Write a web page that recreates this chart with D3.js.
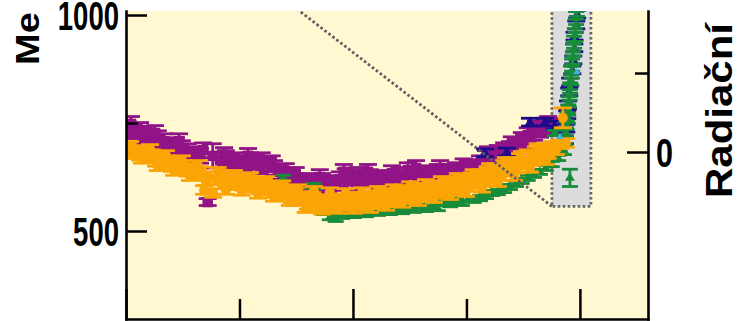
<!DOCTYPE html>
<html>
<head>
<meta charset="utf-8">
<script src="https://cdn.jsdelivr.net/npm/d3@7"></script>
<style>
  html, body { margin: 0; padding: 0; background: #ffffff; }
  svg { display: block; }
</style>
</head>
<body>
<svg id="chart" width="737" height="321"></svg>
<script>
// Methane from ice cores over the last 10,000 years: [years before 2005, ppb, optional error]
const coreA = [ // purple
  [9960,736],[9890,748],[9830,731],[9690,734],[9630,720],[9560,725],[9430,713],[9360,727],
  [9300,715],[9160,708],[9100,692],[9030,697],[8900,699],[8830,708],[8770,692],[8640,685],
  [8570,674],[8500,678],[8370,674],[8300,687],[8200,567,8],[8090,674,28],[7930,664],[7840,676],
  [7800,669],[7670,660],[7580,650],[7530,664],[7400,657],[7310,674],[7270,664],[7140,660],
  [7050,650],[7010,664],[6870,655],[6790,657],[6740,646],[6610,637],[6520,625],[6480,639],
  [6350,625],[6260,630],[6210,616],[6080,613],[5990,602],[5950,616],[5820,609],[5730,625],
  [5680,616],[5550,606],[5460,600],[5420,611],[5290,620],[5200,637],[5160,627],[5020,623],
  [4930,613],[4890,630],[4760,620],[4670,637],[4630,625],[4490,618],[4410,611],[4360,623],
  [4230,616],[4140,634],[4100,623],[3970,630],[3880,618],[3790,641],[3660,630],[3610,646],
  [3530,625],[3390,634],[3350,620],[3260,630],[3130,637],[3080,646],[3000,632],[2860,637],
  [2820,627],[2730,641],[2600,639],[2560,650],[2470,648],[2340,646],[2290,637],[2200,657],
  [2070,669],[2030,678],[1940,671],[1810,681],[1760,674],[1670,687],[1540,690],[1500,701],
  [1410,697],[1280,711],[1230,706],[1150,722],[1010,727],[970,738],[880,734],[750,738],
  [700,748],[620,743]
];
const coreB = [ // orange
  [9960,692],[9910,697],[9870,678],[9780,687],[9690,674],[9650,667],[9600,685],[9520,669],
  [9470,690],[9430,678],[9340,660],[9300,650],[9250,671],[9160,653],[9120,676],[9080,664],
  [8990,648],[8940,639],[8900,660],[8810,641],[8770,664],[8720,653],[8640,637],[8590,627],
  [8550,646],[8460,630],[8420,653],[8370,639],[8280,595],[8240,616],[8200,627],[8080,588],
  [8020,618],[7980,637],[7930,618],[7840,630],[7800,595],[7760,611],[7670,625],[7620,630],
  [7580,606],[7490,620],[7450,593],[7400,604],[7310,618],[7270,625],[7230,600],[7140,613],
  [7090,586],[7050,597],[6960,609],[6920,616],[6870,593],[6790,604],[6740,579],[6700,588],
  [6610,600],[6560,606],[6520,583],[6430,595],[6390,569],[6350,576],[6260,590],[6210,597],
  [6170,569],[6080,581],[6040,553],[5990,560],[5900,579],[5860,593],[5820,558],[5730,574],
  [5680,549],[5640,553],[5550,572],[5510,590],[5460,556],[5380,574],[5330,551],[5290,558],
  [5200,576],[5160,588],[5110,560],[5020,579],[4980,551],[4940,558],[4850,579],[4800,590],
  [4760,560],[4670,581],[4630,553],[4580,562],[4490,583],[4450,593],[4410,565],[4320,586],
  [4270,558],[4230,567],[4140,588],[4100,597],[4050,569],[3970,593],[3920,565],[3880,574],
  [3790,595],[3740,604],[3700,576],[3610,597],[3570,569],[3530,579],[3440,600],[3390,609],
  [3350,581],[3260,604],[3220,576],[3170,586],[3080,606],[3040,616],[3000,588],[2910,611],
  [2860,583],[2820,593],[2730,616],[2690,623],[2640,597],[2560,620],[2510,590],[2470,602],
  [2380,625],[2340,632],[2290,609],[2200,632],[2160,600],[2120,613],[2030,639],[1980,646],
  [1940,620],[1850,646],[1810,613],[1760,627],[1670,653],[1630,660],[1590,637],[1500,660],
  [1450,627],[1410,644],[1320,669],[1280,674],[1230,653],[1150,678],[1100,646],[1060,662],
  [970,685],[930,692],[880,671],[790,692],[750,664],[710,678],[620,697],[530,687],[440,701],
  [375,762,23],[310,704]
];
const coreC = [ // green
  [6540,623],[5880,604],[5640,544],[5510,532],[5380,528],[5240,535],[5110,539],[4980,537],
  [4850,544],[4710,539],[4580,546],[4450,542],[4320,549],[4190,544],[4050,551],[3920,546],
  [3790,553],[3660,549],[3530,556],[3390,551],[3260,558],[3130,553],[3000,567],[2860,562],
  [2730,569],[2600,565],[2470,574],[2340,572],[2200,576],[2070,581],[1940,588],[1810,590],
  [1670,595],[1540,602],[1410,609],[1280,616],[1150,623],[1010,630],[880,637],[750,646],
  [620,655],[550,727],[480,669],
  [352,687,10],[330,711,10],[308,729,10],[290,745,10],[270,762,12],[258,780,12],[242,799,12],
  [225,815,12],[220,623,20],[215,831,12],[198,850,12],[180,868,14],[172,884,14],[154,900,14],
  [138,919,14],[128,937,14],[110,954,15],[92,975,15],[84,993,15],[66,1012,15],[48,1035,15],
  [40,1060,15]
];
const coreD = [ // dark blue
  [2090,681],[1610,683],[1100,752],[880,683],[770,752],[550,745],
  [330,711],[300,738],[280,769],[262,792],[236,822],[214,845],[168,873],[146,896],
  [124,924],[118,951],[80,977],[60,1002],[38,1028],[24,1050]
];
const coreE = [ // light blue
  [440,718],[66,868]
];

// Axis ticks
const ppbMajorTicks = [500, 1000];
const ppbMinorTicks = [750];
const ageMajorTicks = [10000, 5000, 0];
const ageMinorTicks = [7500, 2500];
const rfMajorTicks = [0];
const rfMinorTicks = [0.1];

// Highlighted recent period and its connector towards the detail panel
const recentAges = [617, -242];
const recentFloorPpb = 557;
const detailAnchor = [7340, 1104];

const titleLeft = "Metan (ppb)";
const titleRight = "Radiační působení (W m⁻²)";

// ---------- layout & scales ----------
const svg = d3.select("#chart");
const panel = { left: 126, right: 648, top: 11, bottom: 319 };

const x = d3.scaleLinear().domain([10000, -1500]).range([panel.left, panel.right]);
const y = d3.scaleLinear().domain([296.3, 1009.3]).range([panel.bottom, panel.top]);
const rf = d3.scaleLinear().domain([-0.2114, 0.1785]).range([panel.bottom, panel.top]);

const defs = svg.append("defs");
defs.append("clipPath").attr("id", "plotClip").append("rect")
  .attr("x", panel.left).attr("y", panel.top)
  .attr("width", panel.right - panel.left).attr("height", panel.bottom - panel.top);
defs.append("clipPath").attr("id", "titleClip").append("rect")
  .attr("x", 0).attr("y", panel.top + 1.5).attr("width", 737).attr("height", 321 - panel.top);

// panel background
svg.append("rect")
  .attr("x", panel.left).attr("y", panel.top)
  .attr("width", panel.right - panel.left).attr("height", panel.bottom - panel.top)
  .attr("fill", "#fff8d0");

const plot = svg.append("g").attr("clip-path", "url(#plotClip)");

// grey band for the recent period
plot.append("rect")
  .attr("x", x(recentAges[0]))
  .attr("y", panel.top - 10)
  .attr("width", x(recentAges[1]) - x(recentAges[0]))
  .attr("height", y(recentFloorPpb) - panel.top + 10)
  .attr("fill", "#dcdcdc")
  .attr("stroke", "#666666")
  .attr("stroke-width", 2.8)
  .attr("stroke-dasharray", "2.6 2.4");

// ---------- data series ----------
const series = [
  { data: coreA, color: "#901487", err: 17, cap: 9, symbol: d3.symbolSquare, size: 110 },
  { data: coreD, color: "#1c0c8c", err: 9, cap: 9, symbol: d3.symbolTriangle, size: 40 },
  { data: coreC, color: "#188c3a", err: 6, cap: 8, symbol: d3.symbolTriangle, size: 42 },
  { data: coreB, color: "#fba406", err: 10, cap: 9, symbol: d3.symbolCircle, size: 80 },
  { data: coreE, color: "#3fb3e6", err: 0, cap: 0, symbol: d3.symbolTriangle, size: 22 }
];

series.forEach(s => {
  const pts = s.data.map(d => ({ age: d[0], ppb: d[1], err: d[2] !== undefined ? d[2] : s.err }));
  const g = plot.append("g").attr("stroke", s.color).attr("fill", s.color).attr("stroke-width", 2.8);
  const p = g.selectAll("g").data(pts).join("g")
    .attr("transform", d => `translate(${x(d.age)},0)`);
  p.filter(d => d.err > 0).append("line")
    .attr("x1", 0).attr("x2", 0)
    .attr("y1", d => y(d.ppb - d.err)).attr("y2", d => y(d.ppb + d.err));
  p.filter(d => d.err > 0).append("line")
    .attr("x1", -s.cap).attr("x2", s.cap)
    .attr("y1", d => y(d.ppb + d.err)).attr("y2", d => y(d.ppb + d.err));
  p.filter(d => d.err > 0).append("line")
    .attr("x1", -s.cap).attr("x2", s.cap)
    .attr("y1", d => y(d.ppb - d.err)).attr("y2", d => y(d.ppb - d.err));
  p.append("path")
    .attr("d", d3.symbol(s.symbol, s.size))
    .attr("stroke", "none")
    .attr("transform", d => `translate(0,${y(d.ppb)})`);
});

// connector from the grey band to the detail panel
plot.append("line")
  .attr("x1", x(recentAges[0])).attr("y1", y(recentFloorPpb))
  .attr("x2", x(detailAnchor[0])).attr("y2", y(detailAnchor[1]))
  .attr("stroke", "#5f5f5f").attr("stroke-width", 2.8)
  .attr("stroke-dasharray", "2.6 2.4");

// ---------- axes ----------
const fontTick = "'Liberation Sans', Arial, sans-serif";

function styleAxis(g) {
  g.select(".domain").attr("stroke", "#000").attr("stroke-width", 2.6).attr("stroke-linecap", "square");
  g.selectAll(".tick line").attr("stroke", "#000").attr("stroke-width", 2.5);
}

// left (methane)
const leftMajor = svg.append("g").attr("transform", `translate(${panel.left},0)`)
  .call(d3.axisLeft(y).tickValues(ppbMajorTicks).tickSize(-21).tickSizeOuter(0).tickPadding(7)
    .tickFormat(d3.format("d")));
styleAxis(leftMajor);
leftMajor.selectAll(".tick text")
  .attr("font-family", fontTick).attr("font-weight", "bold").attr("font-size", 40)
  .attr("fill", "#000").attr("dy", "0.37em")
  .attr("textLength", d => String(d).length * 15.3)
  .attr("lengthAdjust", "spacingAndGlyphs");
const leftMinor = svg.append("g").attr("transform", `translate(${panel.left},0)`)
  .call(d3.axisLeft(y).tickValues(ppbMinorTicks).tickSize(-12).tickSizeOuter(0).tickFormat(() => ""));
styleAxis(leftMinor);
leftMinor.select(".domain").remove();

// bottom (time)
const bottomMajor = svg.append("g").attr("transform", `translate(0,${panel.bottom})`)
  .call(d3.axisBottom(x).tickValues(ageMajorTicks).tickSize(-30).tickSizeOuter(0).tickFormat(() => ""));
styleAxis(bottomMajor);
const bottomMinor = svg.append("g").attr("transform", `translate(0,${panel.bottom})`)
  .call(d3.axisBottom(x).tickValues(ageMinorTicks).tickSize(-20).tickSizeOuter(0).tickFormat(() => ""));
styleAxis(bottomMinor);
bottomMinor.select(".domain").remove();

// right (radiative forcing)
const rightMajor = svg.append("g").attr("transform", `translate(${panel.right},0)`)
  .call(d3.axisRight(rf).tickValues(rfMajorTicks).tickSize(-21).tickSizeOuter(0).tickPadding(8)
    .tickFormat(d3.format("d")));
styleAxis(rightMajor);
rightMajor.selectAll(".tick text")
  .attr("font-family", fontTick).attr("font-weight", "bold").attr("font-size", 40)
  .attr("fill", "#000").attr("dy", "0.37em")
  .attr("textLength", d => String(d).length * 17)
  .attr("lengthAdjust", "spacingAndGlyphs");
const rightMinor = svg.append("g").attr("transform", `translate(${panel.right},0)`)
  .call(d3.axisRight(rf).tickValues(rfMinorTicks).tickSize(-13).tickSizeOuter(0).tickFormat(() => ""));
styleAxis(rightMinor);
rightMinor.select(".domain").remove();

// ---------- axis titles ----------
const titles = svg.append("g").attr("clip-path", "url(#titleClip)");
titles.append("text")
  .attr("transform", "translate(39,65) scale(0.86,1) rotate(-90)")
  .attr("font-family", fontTick).attr("font-weight", "bold").attr("font-size", 38)
  .attr("fill", "#000")
  .text(titleLeft);
titles.append("text")
  .attr("transform", "translate(732,198) scale(0.9,1) rotate(-90)")
  .attr("font-family", fontTick).attr("font-weight", "bold").attr("font-size", 42)
  .attr("fill", "#000")
  .text(titleRight);
</script>
</body>
</html>
